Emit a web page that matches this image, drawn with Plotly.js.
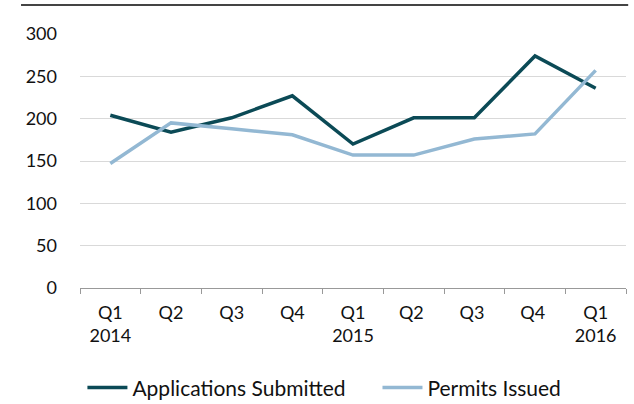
<!DOCTYPE html>
<html>
<head>
<meta charset="utf-8">
<script src="https://cdn.plot.ly/plotly-3.0.1.min.js"></script>
<style>html,body{margin:0;padding:0;background:#fff}</style>
</head>
<body>
<div id="chart" style="width:634px;height:404px;"></div>
<script>
// quarterly values
const quarters = ['Q1<br>2014', 'Q2', 'Q3', 'Q4', 'Q1<br>2015', 'Q2 ', 'Q3 ', 'Q4 ', 'Q1<br>2016'];
const applications = [204, 184, 201, 227, 170, 201, 201, 274, 236];
const permits = [147, 195, 188, 181, 157, 157, 176, 182, 257];

const traces = [
  {
    type: 'scatter', mode: 'lines', name: 'Applications Submitted&nbsp;&nbsp;&nbsp;&nbsp;&nbsp;',
    x: quarters, y: applications,
    line: { color: '#0b4a56', width: 3.5 }
  },
  {
    type: 'scatter', mode: 'lines', name: 'Permits Issued',
    x: quarters, y: permits,
    line: { color: '#93b8d3', width: 3.5 }
  }
];

const layout = {
  width: 634, height: 404,
  margin: { l: 80, r: 8, t: 34, b: 116 },
  paper_bgcolor: '#fff', plot_bgcolor: '#fff',
  font: { family: 'Lato, "Open Sans", sans-serif', size: 18, color: '#111' },
  showlegend: true,
  legend: { orientation: 'h', xref: 'container', yref: 'container', x: 0.13, xanchor: 'left',
    y: 0.04, yanchor: 'middle', font: { size: 21 }, itemwidth: 40 },
  xaxis: {
    type: 'category', range: [-0.5, 8.5], tickson: 'boundaries', ticks: 'outside', ticklen: 5, tickcolor: '#999',
    showline: true, linecolor: '#999', linewidth: 1, showgrid: false, ticklabelstandoff: 8
  },
  yaxis: {
    range: [0, 300], dtick: 50, showgrid: true, gridcolor: '#d9d9d9', gridwidth: 1,
    zeroline: false, showline: false, ticks: '', ticklabelstandoff: 22
  },
  shapes: [
    { type: 'line', xref: 'paper', yref: 'paper', x0: -0.108, x1: 1.004, y0: 1.114, y1: 1.114,
      line: { color: '#444', width: 2 } }
  ]
};

Plotly.newPlot('chart', traces, layout, { staticPlot: true });
</script>
</body>
</html>
